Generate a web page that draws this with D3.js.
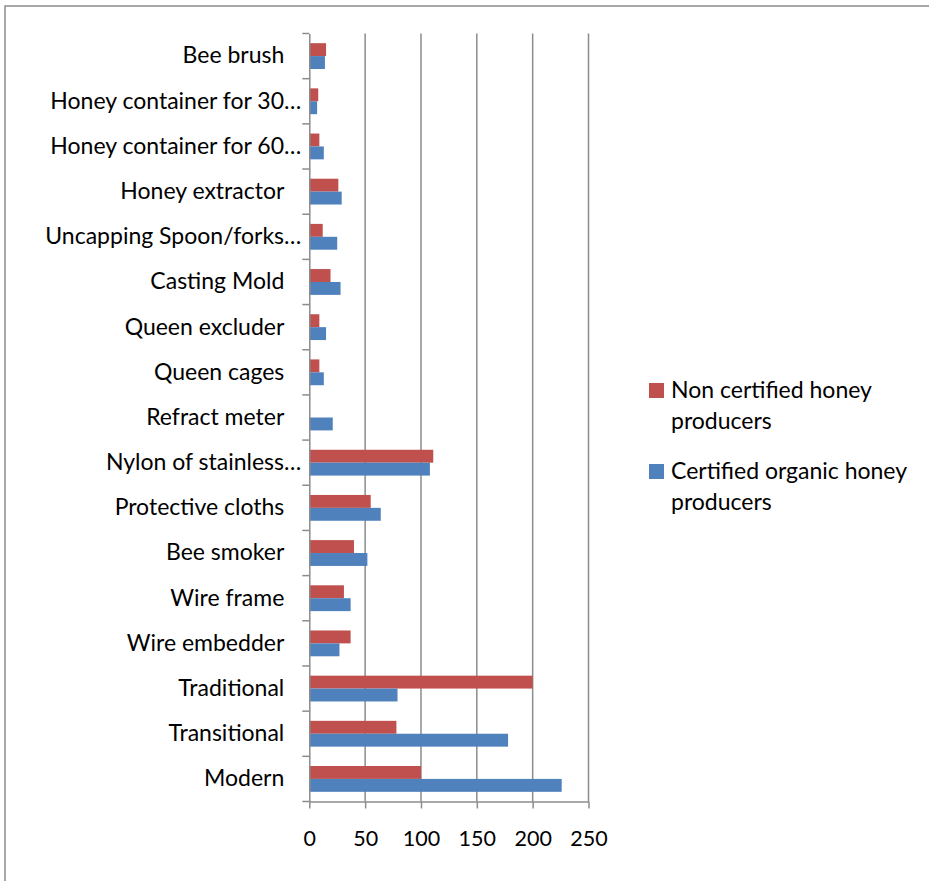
<!DOCTYPE html>
<html>
<head>
<meta charset="utf-8">
<script src="https://cdn.jsdelivr.net/npm/d3@7"></script>
<style>
  html, body { margin: 0; padding: 0; background: #fff; }
  svg { display: block; }
  text { font-family: Lato, "Open Sans", sans-serif; fill: #000; }
</style>
</head>
<body>
<svg id="chart" width="929" height="881"></svg>
<script>
// Beekeeping equipment used, by producer group (top to bottom)
const categories = [
  "Bee brush", "Honey container for 30…", "Honey container for 60…",
  "Honey extractor", "Uncapping Spoon/forks…", "Casting Mold",
  "Queen excluder", "Queen cages", "Refract meter", "Nylon of stainless…",
  "Protective cloths", "Bee smoker", "Wire frame", "Wire embedder",
  "Traditional", "Transitional", "Modern"
];
const nonCertified = [15, 8, 9, 26, 12, 19, 9, 9, 0, 111, 55, 40, 31, 37, 200, 78, 100];
const certified    = [14, 7, 13, 29, 25, 28, 15, 13, 21, 108, 64, 52, 37, 27, 79, 178, 226];
const seriesNames  = ["Non certified honey producers", "Certified organic honey producers"];
const seriesColors = ["#C0504D", "#4F81BD"];
const xTicks = [0, 50, 100, 150, 200, 250];

const svg = d3.select("#chart");
const grey = "#8c8c8c";

// outer frame
svg.append("path")
  .attr("d", "M5,881 L5,6 L929,6")
  .attr("fill", "none").attr("stroke", grey).attr("stroke-width", 1.5);

const plot = { left: 309.3, right: 588.5, top: 33.5, bottom: 801.5 };

const x = d3.scaleLinear().domain([0, 250]).range([plot.left, plot.right]);
const y = d3.scaleBand().domain(categories).range([plot.top, plot.bottom]).paddingInner(0).paddingOuter(0);
const inner = d3.scaleBand().domain([0, 1]).range([0, y.bandwidth()]).paddingInner(0).paddingOuter(0.75);

// vertical gridlines
svg.append("g").selectAll("line")
  .data(xTicks.slice(1))
  .join("line")
  .attr("x1", d => x(d)).attr("x2", d => x(d))
  .attr("y1", plot.top).attr("y2", plot.bottom)
  .attr("stroke", grey).attr("stroke-width", 1.5);

// bars
const rows = categories.map((c, i) => ({ c, v: [nonCertified[i], certified[i]] }));
const grp = svg.append("g").selectAll("g")
  .data(rows)
  .join("g")
  .attr("transform", d => `translate(0,${y(d.c)})`);
grp.selectAll("rect")
  .data(d => d.v.map((v, s) => ({ v, s })))
  .join("rect")
  .attr("x", x(0))
  .attr("y", d => inner(d.s))
  .attr("width", d => x(d.v) - x(0))
  .attr("height", inner.bandwidth())
  .attr("fill", d => seriesColors[d.s]);

// x axis
const xAxis = svg.append("g")
  .attr("transform", `translate(0,${plot.bottom})`)
  .call(d3.axisBottom(x).tickValues(xTicks).tickSize(7).tickPadding(22).tickSizeOuter(0));
xAxis.select(".domain").attr("stroke", grey).attr("stroke-width", 1.5);
xAxis.selectAll(".tick line").attr("stroke", grey).attr("stroke-width", 1.5);
xAxis.selectAll(".tick text").style("font-size", "21.5px").attr("font-family", "Lato, sans-serif").attr("fill", "#000");

// y axis; clipped labels (ending in an ellipsis) sit slightly further right
const yAxis = svg.append("g")
  .attr("transform", `translate(${plot.left},0)`)
  .call(d3.axisLeft(y).tickSize(0).tickPadding(25).tickSizeOuter(0));
yAxis.select(".domain").attr("stroke", grey).attr("stroke-width", 1.5);
yAxis.selectAll(".tick text")
  .style("font-size", "23px").attr("font-family", "Lato, sans-serif").attr("fill", "#000")
  .attr("dx", d => d.endsWith("…") ? 17 : 0);
// boundary ticks between categories
svg.append("g").selectAll("line")
  .data(d3.range(categories.length + 1))
  .join("line")
  .attr("x1", plot.left - 7).attr("x2", plot.left)
  .attr("y1", i => plot.top + i * y.step()).attr("y2", i => plot.top + i * y.step())
  .attr("stroke", grey).attr("stroke-width", 1.5);

// legend
const legendLines = [["Non certified honey", "producers"], ["Certified organic honey", "producers"]];
const legendTop = [383, 464];
const lg = svg.append("g").selectAll("g")
  .data(seriesNames)
  .join("g")
  .attr("transform", (d, i) => `translate(649,${legendTop[i]})`);
lg.append("rect").attr("width", 15).attr("height", 15).attr("fill", (d, i) => seriesColors[i]);
lg.append("text")
  .attr("x", 22).attr("y", 14.5)
  .style("font-size", "23px")
  .selectAll("tspan")
  .data((d, i) => legendLines[i])
  .join("tspan")
  .attr("x", 22)
  .attr("dy", (d, j) => j === 0 ? 0 : 31)
  .text(d => d);
</script>
</body>
</html>
